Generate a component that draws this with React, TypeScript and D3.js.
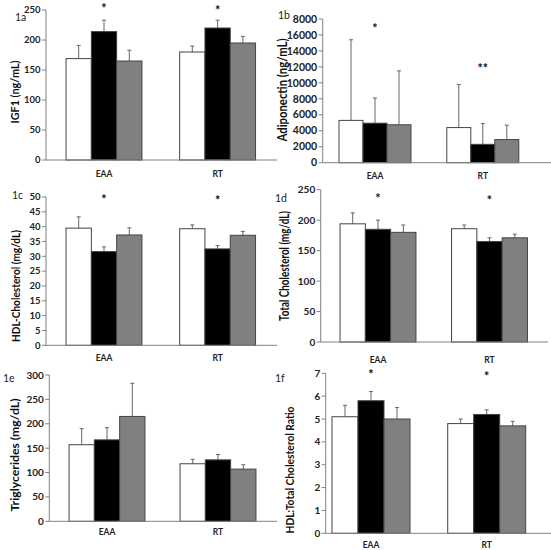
import { useEffect, useRef } from "react";
import * as d3 from "d3";

// categories and series
const groups = ["EAA", "RT"];
const series = ["white", "black", "gray"];
const seriesFill: Record<string, string> = { white: "#ffffff", black: "#000000", gray: "#808080" };

// panel 1a IGF1
const igf1Mean = [[169, 214, 165], [180, 220, 195]];
const igf1Err = [[22, 19, 18], [10, 13, 11]];
const igf1Stars = ["*", "*"];
const igf1StarAt = [256, 253];

// panel 1b adiponectin
const adipoMean = [[5300, 4950, 4750], [4400, 2300, 2900]];
const adipoErr = [[10100, 3150, 6750], [5400, 2600, 1800]];
const adipoStars = ["*", "**"];
const adipoStarAt = [17100, 12100];
const adipoTickLabels = ["0", "2000", "4000", "6000", "8000", "10000", "12000", "14000", "16000", "8000"];

// panel 1c HDL
const hdlMean = [[39.5, 31.6, 37.2], [39.3, 32.5, 37.1]];
const hdlErr = [[3.8, 1.6, 2.4], [1.3, 1.1, 1.3]];
const hdlStars = ["*", "*"];
const hdlStarAt = [50, 49.7];

// panel 1d total cholesterol
const tcMean = [[194, 185, 180], [186, 165, 171]];
const tcErr = [[18, 15, 12], [6, 6, 6]];
const tcStars = ["*", "*"];
const tcStarAt = [240, 236];

// panel 1e triglycerides
const tgMean = [[157, 167, 215], [118, 126, 107]];
const tgErr = [[33, 25, 68], [9, 11, 9]];

// panel 1f ratio
const ratioMean = [[5.1, 5.8, 5.0], [4.8, 5.2, 4.7]];
const ratioErr = [[0.5, 0.4, 0.5], [0.2, 0.2, 0.2]];
const ratioStars = ["*", "*"];
const ratioStarAt = [7.06, 6.97];

interface Panel {
  label: string;
  title: string;
  titleLen: number;
  titleSize: number;
  titleX: number;
  titleY: number;
  labelX: number;
  labelY: number;
  mean: number[][];
  err: number[][];
  stars?: string[];
  starAt?: number[];
  max: number;
  step: number;
  tickLabels?: string[];
  tickSize: number;
  axisX: number;
  axisEnd: number;
  yTop: number;
  yBottom: number;
  bandL: number;
  bandR: number;
  barW: number;
  catDy: number;
}

const panels: Panel[] = [
  {
    label: "1a", title: "IGF1 (ng/mL)", titleLen: 63, titleSize: 12, titleX: 15, titleY: 92,
    labelX: 15, labelY: 21, mean: igf1Mean, err: igf1Err, stars: igf1Stars, starAt: igf1StarAt,
    max: 250, step: 50, tickSize: 9.5, axisX: 46, axisEnd: 277, yTop: 10, yBottom: 160,
    bandL: 47.2, bandR: 274.4, barW: 25.3, catDy: 17,
  },
  {
    label: "1b", title: "Adiponectin (ng/mL)", titleLen: 103, titleSize: 12.5, titleX: 282.5, titleY: 90,
    labelX: 278, labelY: 19, mean: adipoMean, err: adipoErr, stars: adipoStars, starAt: adipoStarAt,
    max: 18000, step: 2000, tickLabels: adipoTickLabels, tickSize: 10.5, axisX: 322.7, axisEnd: 551,
    yTop: 19, yBottom: 162.7, bandL: 321.1, bandR: 536.7, barW: 24, catDy: 16.5,
  },
  {
    label: "1c", title: "HDL-Cholesterol (mg/dL)", titleLen: 112, titleSize: 10.5, titleX: 16, titleY: 286,
    labelX: 12, labelY: 199, mean: hdlMean, err: hdlErr, stars: hdlStars, starAt: hdlStarAt,
    max: 50, step: 5, tickSize: 9.5, axisX: 46, axisEnd: 277, yTop: 197, yBottom: 345.3,
    bandL: 47.2, bandR: 274.4, barW: 25.3, catDy: 16,
  },
  {
    label: "1d", title: "Total Cholesterol (mg/dL)", titleLen: 110, titleSize: 12.5, titleX: 284.5, titleY: 266,
    labelX: 275, labelY: 202, mean: tcMean, err: tcErr, stars: tcStars, starAt: tcStarAt,
    max: 250, step: 50, tickSize: 10, axisX: 320.7, axisEnd: 548, yTop: 189.7, yBottom: 342,
    bandL: 322.25, bandR: 545.25, barW: 25.3, catDy: 21,
  },
  {
    label: "1e", title: "Triglycerides (mg/dL)", titleLen: 113, titleSize: 12, titleX: 15, titleY: 455,
    labelX: 3, labelY: 382, mean: tgMean, err: tgErr,
    max: 300, step: 50, tickSize: 10, axisX: 49.3, axisEnd: 277, yTop: 375, yBottom: 521.3,
    bandL: 51.5, bandR: 273.5, barW: 25.3, catDy: 14,
  },
  {
    label: "1f", title: "HDL:Total Cholesterol Ratio", titleLen: 127, titleSize: 12, titleX: 290, titleY: 470,
    labelX: 275, labelY: 382, mean: ratioMean, err: ratioErr, stars: ratioStars, starAt: ratioStarAt,
    max: 7, step: 1, tickSize: 10, axisX: 325.7, axisEnd: 551, yTop: 373.3, yBottom: 533.3,
    bandL: 313.15, bandR: 544.55, barW: 26, catDy: 15,
  },
];

const FONT = "Lato, 'Open Sans', sans-serif";

const App = () => {
  const svgRef = useRef<SVGSVGElement>(null);

  useEffect(() => {
    if (!svgRef.current) return;
    const svg = d3.select(svgRef.current);
    svg.selectAll("*").remove();

    svg.append("rect").attr("width", 551).attr("height", 550).attr("fill", "#fff");

    panels.forEach((p) => {
      const g = svg.append("g");
      const y = d3.scaleLinear().domain([0, p.max]).range([p.yBottom, p.yTop]);
      const x = d3.scaleBand().domain(groups).range([p.bandL, p.bandR]).padding(0);
      const xs = d3
        .scaleBand()
        .domain(series)
        .range([-1.5 * p.barW, 1.5 * p.barW]);
      const center = (grp: string) => (x(grp) || 0) + x.bandwidth() / 2;

      // y ticks
      const ticks = d3.range(0, p.max + p.step / 2, p.step);
      ticks.forEach((t, i) => {
        g.append("line")
          .attr("x1", p.axisX - 4)
          .attr("x2", p.axisX)
          .attr("y1", y(t))
          .attr("y2", y(t))
          .attr("stroke", "#808080");
        g.append("text")
          .attr("x", p.axisX - 5.5)
          .attr("y", y(t))
          .attr("dy", "0.35em")
          .attr("text-anchor", "end")
          .attr("font-family", FONT)
          .attr("font-weight", "bold")
          .attr("font-size", p.tickSize)
          .attr("fill", "#222")
          .text(p.tickLabels ? p.tickLabels[i] : String(t));
      });

      // bars with upper error bars
      groups.forEach((grp, gi) => {
        series.forEach((s, si) => {
          const x0 = center(grp) + (xs(s) || 0);
          const v = p.mean[gi][si];
          const top = v + p.err[gi][si];
          const cx = x0 + xs.bandwidth() / 2;
          g.append("line")
            .attr("x1", cx)
            .attr("x2", cx)
            .attr("y1", y(v))
            .attr("y2", y(top))
            .attr("stroke", "#666")
            .attr("stroke-width", 1);
          g.append("line")
            .attr("x1", cx - 2)
            .attr("x2", cx + 2)
            .attr("y1", y(top))
            .attr("y2", y(top))
            .attr("stroke", "#666")
            .attr("stroke-width", 1);
          g.append("rect")
            .attr("x", x0)
            .attr("y", y(v))
            .attr("width", xs.bandwidth())
            .attr("height", y(0) - y(v))
            .attr("fill", seriesFill[s])
            .attr("stroke", "#444")
            .attr("stroke-width", 1);
        });

        if (p.stars && p.starAt) {
          g.append("text")
            .attr("x", center(grp))
            .attr("y", y(p.starAt[gi]) + 7)
            .attr("text-anchor", "middle")
            .attr("font-family", FONT)
            .attr("font-weight", "bold")
            .attr("font-size", 12.5)
            .attr("fill", "#111")
            .text(p.stars[gi]);
        }

        g.append("text")
          .attr("x", center(grp))
          .attr("y", p.yBottom + p.catDy)
          .attr("text-anchor", "middle")
          .attr("font-family", FONT)
          .attr("font-weight", "bold")
          .attr("font-size", 8.5)
          .attr("fill", "#222")
          .text(grp);
      });

      // axes
      g.append("line")
        .attr("x1", p.axisX)
        .attr("x2", p.axisX)
        .attr("y1", p.yTop)
        .attr("y2", p.yBottom)
        .attr("stroke", "#808080");
      g.append("line")
        .attr("x1", p.axisX)
        .attr("x2", p.axisEnd)
        .attr("y1", p.yBottom)
        .attr("y2", p.yBottom)
        .attr("stroke", "#808080");

      // axis title
      g.append("text")
        .attr("transform", `translate(${p.titleX},${p.titleY}) rotate(-90)`)
        .attr("text-anchor", "middle")
        .attr("dy", "0.35em")
        .attr("font-family", FONT)
        .attr("font-weight", "bold")
        .attr("font-size", p.titleSize)
        .attr("textLength", p.titleLen)
        .attr("lengthAdjust", "spacingAndGlyphs")
        .attr("fill", "#111")
        .text(p.title);

      // panel label
      g.append("text")
        .attr("x", p.labelX)
        .attr("y", p.labelY)
        .attr("font-family", FONT)
        .attr("font-size", 10.5)
        .attr("fill", "#222")
        .text(p.label);
    });
  }, []);

  return (
    <svg
      ref={svgRef}
      width={551}
      height={550}
      style={{ position: "absolute", left: 0, top: 0, display: "block" }}
    />
  );
};

export default App;
